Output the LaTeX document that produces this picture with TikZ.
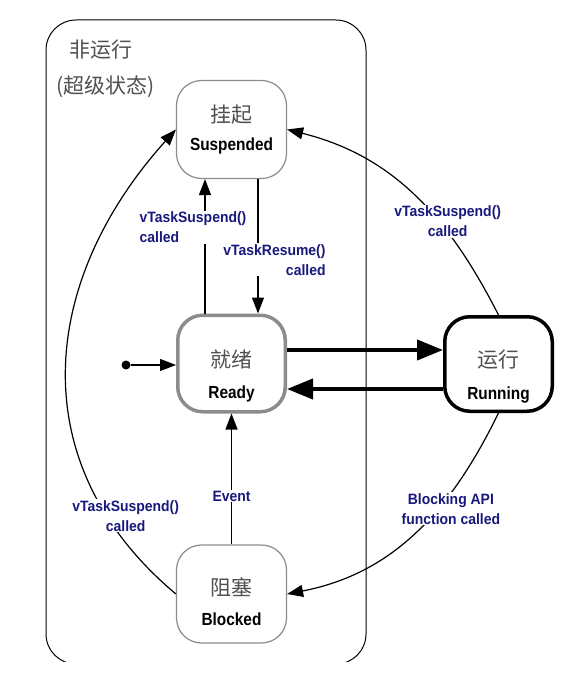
\documentclass[tikz,border=0pt]{standalone}
\usepackage{fontspec}
\setmainfont{Liberation Sans}
\newfontfamily\cjk{Noto Sans CJK SC}
\newfontfamily\enfont[FakeStretch=0.88]{Liberation Sans}
\newfontfamily\lblfont[FakeStretch=0.93]{Liberation Sans}
\usetikzlibrary{arrows.meta}
\definecolor{lbl}{RGB}{25,25,125}
\definecolor{cn}{RGB}{80,80,80}
\definecolor{bord}{RGB}{140,140,140}
\begin{document}
\begin{tikzpicture}[x=1pt,y=1pt,
  statebox/.style={rounded corners=25pt, inner sep=0pt, fill=white},
  thinstate/.style={statebox, draw=bord, line width=1.2pt, minimum width=110pt, minimum height=98pt},
  readystate/.style={statebox, draw=bord, line width=3.5pt, minimum width=107.5pt, minimum height=96.5pt},
  runstate/.style={statebox, draw=black, line width=3.5pt, minimum width=107.5pt, minimum height=94.5pt},
  cntext/.style={font=\cjk\fontsize{21}{24}\selectfont, text=cn, inner sep=0pt, anchor=base},
  entext/.style={font=\enfont\bfseries\fontsize{17.5}{20}\selectfont, inner sep=0pt, anchor=base},
  edgelbl/.style={font=\lblfont\bfseries\fontsize{15}{20}\selectfont, text=lbl, fill=white, inner sep=1pt},
  conn/.style={line width=1.2pt, -{Triangle[length=16pt,width=12pt]}},
  bigconn/.style={line width=4pt, -{Triangle[length=26pt,width=20pt]}},
]
\useasboundingbox (0,0) rectangle (570,-677);
\fill[white] (0,0) rectangle (570,-677);
% super state
\begin{scope}
  \clip (0,0) rectangle (570,-661);
  \draw[line width=1pt, rounded corners=30pt] (46,-20) rectangle (366,-664);
\end{scope}
\node[cntext, anchor=base west] (suplbl1) at (69,-57) {非运行};
\node[cntext, anchor=base west] (suplbl2) at (56,-93) {(超级状态)};
% states
\node[thinstate] (susp) at (231.5,-129.5) {};
\node[readystate] (rdy) at (231.5,-363.5) {};
\node[runstate] (run) at (498.5,-364) {};
\node[thinstate] (blk) at (231.5,-594) {};
\node[cntext] (suspcn) at (231.5,-122) {挂起};
\node[entext] (suspen) at (231.5,-150.5) {Suspended};
\node[cntext] (rdycn) at (231.5,-367) {就绪};
\node[entext] (rdyen) at (231.5,-398.5) {Ready};
\node[cntext] (runcn) at (498.5,-367) {运行};
\node[entext] (runen) at (498.5,-399.5) {Running};
\node[cntext] (blkcn) at (231.5,-595) {阻塞};
\node[entext] (blken) at (231.5,-625.5) {Blocked};
% initial
\node[circle, fill=black, inner sep=0pt, minimum size=9pt] (init) at (126,-365) {};
\draw[conn] (init) -- (init -| rdy.west);
% ready <-> running
\draw[bigconn] ([yshift=13.5]rdy.east) -- ([yshift=14]run.west);
\draw[bigconn] ([yshift=-25]run.west) -- ([yshift=-25.5]rdy.east);
% ready <-> suspended
\draw[conn] ([xshift=-26.5]rdy.north) -- node[edgelbl, align=left, pos=0.64, xshift=-12]{vTaskSuspend()\\called} ([xshift=-26.5]susp.south);
\draw[conn] ([xshift=26.5]susp.south) -- node[edgelbl, align=right, pos=0.6, xshift=16.5]{vTaskResume()\\called} ([xshift=26.5]rdy.north);
% blocked -> ready
\draw[conn] (blk.north) -- node[edgelbl, pos=0.37]{Event} (rdy.south);
% running -> suspended
\draw[conn] (run.north) to[out=117,in=-14] node[edgelbl, align=center, pos=0.37, xshift=9]{vTaskSuspend()\\called} (susp.east);
% running -> blocked
\draw[conn] (run.south) to[out=244,in=11] node[edgelbl, align=center, pos=0.38, xshift=13]{Blocking API\\function called} (blk.east);
% blocked -> suspended
\draw[conn] (blk.west) to[out=140,in=228,out distance=203pt,in distance=203pt] node[edgelbl, align=center, pos=0.187, xshift=19]{vTaskSuspend()\\called} (susp.west);
\end{tikzpicture}
\end{document}
